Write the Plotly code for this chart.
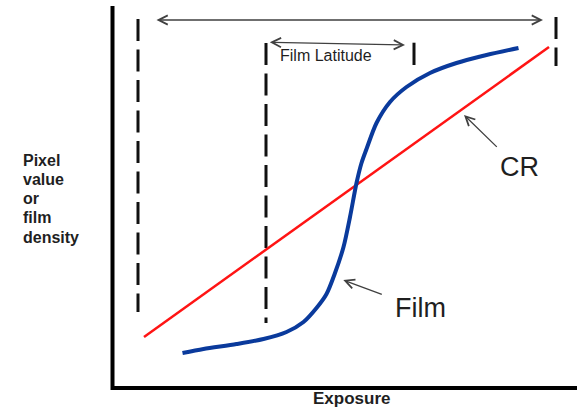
import plotly.graph_objects as go

# Coordinate system: exposure (x) and density (y) in arbitrary units,
# origin at the corner of the drawn axes.
film_exposure = [70, 91, 124, 151, 174, 191, 204, 214, 222.5, 231, 237.5, 244,
                 249, 254, 264, 277.5, 294, 317.5, 344, 374, 406]
film_density = [35, 39, 44, 49, 56, 66, 80, 94, 115, 141, 171, 205,
                225, 239, 265, 286, 301, 315, 325, 333, 340]

cr_exposure = [31.5, 436.5]
cr_density = [51, 341]

# dashed exposure-range markers: (x, y_top, y_bottom)
dash_x = [25.5, 153.5, 443.5]
dash_top = [369, 345, 371]
dash_bottom = [76, 65, 322]

latitude_tick_x = 301.5
latitude_tick_y = [345.3, 323]

axis_x_end = 464.5
axis_y_end = 382

y_label_lines = ["Pixel", "value", "or", "film", "density"]

TEXT = "#1f1f1f"
FONT = "Liberation Sans, Arial, sans-serif"

fig = go.Figure()

# axes (drawn as an L)
fig.add_trace(go.Scatter(x=[0, 0, axis_x_end], y=[axis_y_end, 0, 0], mode="lines",
                         line=dict(color="#000000", width=4), hoverinfo="skip"))

for x, yt, yb in zip(dash_x, dash_top, dash_bottom):
    fig.add_trace(go.Scatter(x=[x, x], y=[yt, yb], mode="lines",
                             line=dict(color="#111111", width=3, dash="22px,8.5px"),
                             hoverinfo="skip"))

fig.add_trace(go.Scatter(x=[latitude_tick_x, latitude_tick_x], y=latitude_tick_y, mode="lines",
                         line=dict(color="#111111", width=3), hoverinfo="skip"))

fig.add_trace(go.Scatter(x=cr_exposure, y=cr_density, mode="lines",
                         line=dict(color="#ff1414", width=2.5), hoverinfo="skip"))

fig.add_trace(go.Scatter(x=film_exposure, y=film_density, mode="lines",
                         line=dict(color="#0a3a9c", width=4, shape="spline", smoothing=0.8),
                         hoverinfo="skip"))

def arrow(x, y, ax, ay, both=False):
    d = dict(x=x, y=y, ax=ax, ay=ay, xref="x", yref="y", axref="x", ayref="y",
             text="", showarrow=True, arrowhead=5, arrowsize=1.4, arrowwidth=1.3,
             arrowcolor="#404040", standoff=0, startstandoff=0)
    if both:
        d.update(arrowside="end+start", startarrowhead=5, startarrowsize=1.4)
    return d

annotations = [
    arrow(430.5, 368, 42.5, 368, both=True),
    arrow(292.5, 343, 155.8, 345.7, both=True),
    arrow(351.5, 273, 385.8, 239.7),
    arrow(230.8, 108, 270.8, 93),
    dict(x=165.5, y=333, xref="x", yref="y", text="Film Latitude", showarrow=False,
         xanchor="left", yanchor="middle", font=dict(family=FONT, size=16, color=TEXT)),
    dict(x=406.5, y=221, xref="x", yref="y", text="CR", showarrow=False,
         xanchor="center", yanchor="middle", font=dict(family=FONT, size=27, color=TEXT)),
    dict(x=307.5, y=80, xref="x", yref="y", text="Film", showarrow=False,
         xanchor="center", yanchor="middle", font=dict(family=FONT, size=27, color=TEXT)),
    dict(x=239.2, y=-10, xref="x", yref="y", text="<b>Exposure</b>", showarrow=False,
         xanchor="center", yanchor="middle", font=dict(family=FONT, size=17, color=TEXT)),
]
for i, w in enumerate(y_label_lines):
    annotations.append(dict(x=-91.5, y=228 - i * 19.25, xref="x", yref="y",
                            text=f"<b>{w}</b>", showarrow=False, xanchor="left",
                            yanchor="middle", font=dict(family=FONT, size=16, color=TEXT)))

fig.update_layout(
    width=577, height=407,
    margin=dict(l=0, r=0, t=0, b=0),
    paper_bgcolor="white", plot_bgcolor="white",
    showlegend=False,
    xaxis=dict(range=[-112.5, 464.5], visible=False, fixedrange=True),
    yaxis=dict(range=[-19, 388], visible=False, fixedrange=True),
    annotations=annotations,
)

fig.write_html("out.html", config={"displayModeBar": False},
               post_script="document.body.style.margin='0px';document.body.style.overflow='hidden';")
